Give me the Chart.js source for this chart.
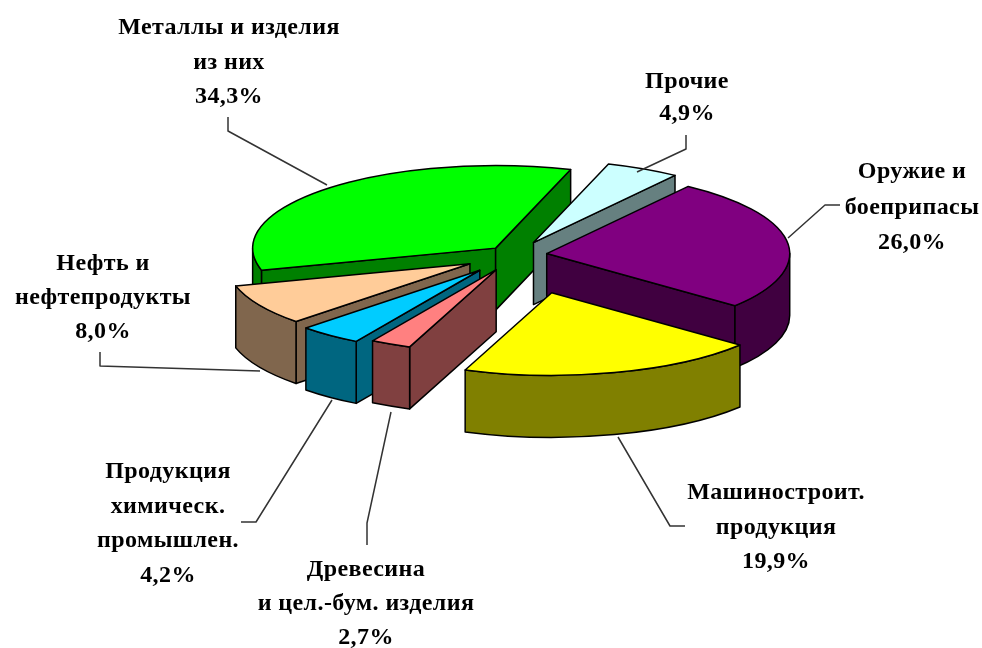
<!DOCTYPE html>
<html>
<head>
<meta charset="utf-8">
<title>Pie</title>
<script src="https://cdn.jsdelivr.net/npm/chart.js@4"></script>
<style>
  html, body { margin: 0; padding: 0; background: #fff; }
  canvas { display: block; filter: blur(0.5px); }
</style>
</head>
<body>
<canvas id="myChart" width="982" height="648"></canvas>
<script>
const categories = [
  ["Металлы и изделия", "из них"],
  ["Прочие"],
  ["Оружие и", "боеприпасы"],
  ["Машиностроит.", "продукция"],
  ["Древесина", "и цел.-бум. изделия"],
  ["Продукция", "химическ.", "промышлен."],
  ["Нефть и", "нефтепродукты"],
];
const values = [34.3, 4.9, 26.0, 19.9, 2.7, 4.2, 8.0];

const topColors = ["#00FF00", "#CCFFFF", "#800080", "#FFFF00", "#FF8080", "#00CCFF", "#FFCC99"];
const wallColors = ["#008000", "#668080", "#400040", "#808000", "#804040", "#006680", "#80664D"];

// how far each slice is pulled out of the pie, along its own middle angle
const explode = [28, 41, 32, 115, 48, 57, 52];
// small sideways correction per slice
const nudgeX = [0, 0, 0, 7, 2, 0, 0];
// back slices first
const drawOrder = [0, 1, 2, 6, 5, 4, 3];

const pieX = 515;
const pieY = 255;
const pieRadius = 243;
const tilt = 0.34;
const depth = 62;

// label block centre x, first line y, line height
const labelPos = [
  [229, 28, 34.5],
  [687, 82, 32],
  [912, 172, 35.5],
  [776, 493, 34.5],
  [366, 570, 34],
  [168, 472, 34.5],
  [103, 264, 34],
];
const leaders = [
  [[228, 117], [228, 131], [327, 185]],
  [[686, 135], [686, 149], [637, 172]],
  [[840, 205], [825, 205], [788, 238]],
  [[685, 526], [670, 526], [618, 437]],
  [[367, 545], [367, 523], [391, 412]],
  [[241, 522], [256, 522], [332, 400]],
  [[100, 352], [100, 366], [260, 371]],
];

function percentText(v) {
  return v.toFixed(1).replace(".", ",") + "%";
}

function strokeEdge(ctx) {
  ctx.lineWidth = 1.5;
  ctx.strokeStyle = "#000";
  ctx.lineJoin = "round";
  ctx.stroke();
}

function drawWalls(ctx, arc, i, cx, cy) {
  const r = arc.outerRadius;
  const ry = r * tilt;
  const a = arc.startAngle;
  const b = arc.endAngle;
  ctx.fillStyle = wallColors[i];

  // flat cut faces, only the ones turned towards the viewer
  const faces = [];
  if (Math.cos(a) < 0) faces.push(a);
  if (Math.cos(b) > 0) faces.push(b);
  faces.forEach((t) => {
    const x = cx + Math.cos(t) * r;
    const y = cy + Math.sin(t) * ry;
    ctx.beginPath();
    ctx.moveTo(cx, cy);
    ctx.lineTo(x, y);
    ctx.lineTo(x, y + depth);
    ctx.lineTo(cx, cy + depth);
    ctx.closePath();
    ctx.fill();
    strokeEdge(ctx);
  });

  // rounded outer wall, lower half of the ellipse only
  [0, 2 * Math.PI].forEach((turn) => {
    const from = Math.max(a, turn);
    const to = Math.min(b, turn + Math.PI);
    if (to <= from) return;
    ctx.beginPath();
    ctx.ellipse(cx, cy, r, ry, 0, from, to);
    ctx.ellipse(cx, cy + depth, r, ry, 0, to, from, true);
    ctx.closePath();
    ctx.fill();
    strokeEdge(ctx);
  });
}

const pie3d = {
  id: "pie3d",
  beforeDatasetsDraw(chart) {
    const ctx = chart.ctx;
    const arcs = chart.getDatasetMeta(0).data;

    drawOrder.forEach((i) => {
      const arc = arcs[i];
      const mid = (arc.startAngle + arc.endAngle) / 2;
      const cx = pieX + nudgeX[i] + Math.cos(mid) * explode[i];
      const cy = pieY + Math.sin(mid) * explode[i] * tilt;

      drawWalls(ctx, arc, i, cx, cy);

      // top of the slice is the normal chart arc, squashed
      ctx.save();
      ctx.translate(cx, cy);
      ctx.scale(1, tilt);
      ctx.translate(-arc.x, -arc.y);
      arc.draw(ctx);
      ctx.restore();

      ctx.beginPath();
      ctx.moveTo(cx, cy);
      ctx.ellipse(cx, cy, arc.outerRadius, arc.outerRadius * tilt, 0, arc.startAngle, arc.endAngle);
      ctx.closePath();
      strokeEdge(ctx);
    });
    return false;
  },
  afterDraw(chart) {
    const ctx = chart.ctx;
    ctx.save();

    ctx.strokeStyle = "#333";
    ctx.lineWidth = 1.5;
    leaders.forEach((pts) => {
      ctx.beginPath();
      pts.forEach((p, n) => (n ? ctx.lineTo(p[0], p[1]) : ctx.moveTo(p[0], p[1])));
      ctx.stroke();
    });

    ctx.fillStyle = "#000";
    ctx.font = 'bold 24px "Liberation Serif"';
    ctx.letterSpacing = "0.4px";
    ctx.textAlign = "center";
    ctx.textBaseline = "middle";
    categories.forEach((lines, i) => {
      const [x, y, step] = labelPos[i];
      lines.concat(percentText(values[i])).forEach((line, n) => {
        ctx.fillText(line, x, y + n * step);
      });
    });
    ctx.restore();
  },
};

new Chart(document.getElementById("myChart"), {
  type: "pie",
  data: {
    labels: categories.map((c) => c.join(" ")),
    datasets: [
      {
        data: values,
        backgroundColor: topColors,
        borderWidth: 0,
      },
    ],
  },
  options: {
    responsive: false,
    animation: false,
    rotation: 254.5,
    radius: pieRadius,
    plugins: {
      legend: { display: false },
      tooltip: { enabled: false },
    },
  },
  plugins: [pie3d],
});
</script>
</body>
</html>
